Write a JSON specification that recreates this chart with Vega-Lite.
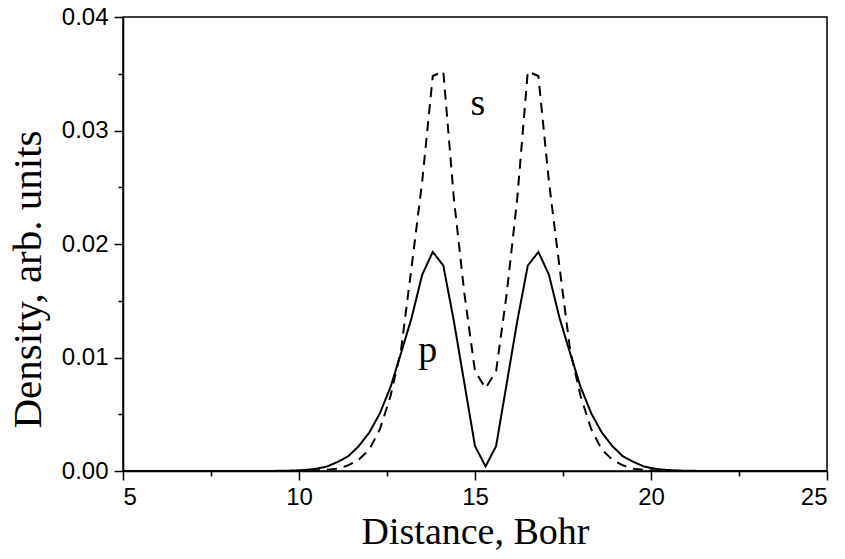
{
  "$schema": "https://vega.github.io/schema/vega-lite/v6.json",
  "autosize": "none",
  "width": 704,
  "height": 454,
  "padding": {"left": 123, "top": 17, "right": 18, "bottom": 88},
  "background": "white",
  "config": {
    "view": {"stroke": "black", "strokeWidth": 1.5},
    "axis": {
      "grid": false,
      "labelFont": "Liberation Sans",
      "labelFontSize": 24,
      "labelColor": "black",
      "titleFont": "Liberation Serif",
      "titleFontSize": 38,
      "titleFontWeight": "normal",
      "titleColor": "black",
      "domainColor": "black",
      "domainWidth": 1.5,
      "ticks": true,
      "tickColor": "black",
      "tickWidth": 1.5,
      "tickSize": 9
    }
  },
  "datasets": {
    "curves": [
      {"x": 5.0, "p": 0, "s": 0},
      {"x": 9.3, "p": 0.00001, "s": 0},
      {"x": 9.6, "p": 0.00002, "s": 0},
      {"x": 9.9, "p": 0.00005, "s": 0},
      {"x": 10.2, "p": 0.0001, "s": 0.00001},
      {"x": 10.5, "p": 0.0002, "s": 0.00004},
      {"x": 10.8, "p": 0.0004, "s": 0.0001},
      {"x": 11.1, "p": 0.0008, "s": 0.0002},
      {"x": 11.4, "p": 0.0013, "s": 0.0005},
      {"x": 11.7, "p": 0.0022, "s": 0.0010},
      {"x": 12.0, "p": 0.0034, "s": 0.0019},
      {"x": 12.3, "p": 0.0051, "s": 0.0037},
      {"x": 12.6, "p": 0.0074, "s": 0.0066},
      {"x": 12.9, "p": 0.0104, "s": 0.0107},
      {"x": 13.2, "p": 0.0135, "s": 0.0180},
      {"x": 13.5, "p": 0.0173, "s": 0.0255},
      {"x": 13.8, "p": 0.0193, "s": 0.0348},
      {"x": 14.1, "p": 0.0181, "s": 0.0352},
      {"x": 14.4, "p": 0.0132, "s": 0.0240},
      {"x": 14.7, "p": 0.0077, "s": 0.0156},
      {"x": 15.0, "p": 0.0022, "s": 0.0088},
      {"x": 15.3, "p": 0.0004, "s": 0.0073},
      {"x": 15.6, "p": 0.0022, "s": 0.0088},
      {"x": 15.9, "p": 0.0077, "s": 0.0156},
      {"x": 16.2, "p": 0.0132, "s": 0.0240},
      {"x": 16.5, "p": 0.0181, "s": 0.0352},
      {"x": 16.8, "p": 0.0193, "s": 0.0348},
      {"x": 17.1, "p": 0.0173, "s": 0.0255},
      {"x": 17.4, "p": 0.0135, "s": 0.0180},
      {"x": 17.7, "p": 0.0104, "s": 0.0107},
      {"x": 18.0, "p": 0.0074, "s": 0.0066},
      {"x": 18.3, "p": 0.0051, "s": 0.0037},
      {"x": 18.6, "p": 0.0034, "s": 0.0019},
      {"x": 18.9, "p": 0.0022, "s": 0.0010},
      {"x": 19.2, "p": 0.0013, "s": 0.0005},
      {"x": 19.5, "p": 0.0008, "s": 0.0002},
      {"x": 19.8, "p": 0.0004, "s": 0.0001},
      {"x": 20.1, "p": 0.0002, "s": 0.00004},
      {"x": 20.4, "p": 0.0001, "s": 0.00001},
      {"x": 20.7, "p": 0.00005, "s": 0},
      {"x": 21.0, "p": 0.00002, "s": 0},
      {"x": 21.3, "p": 0.00001, "s": 0},
      {"x": 25.0, "p": 0, "s": 0}
    ],
    "labels": [
      {"x": 15.08, "y": 0.0314, "label": "s"},
      {"x": 13.66, "y": 0.0096, "label": "p"}
    ]
  },
  "layer": [
    {
      "data": {"name": "curves"},
      "transform": [{"fold": ["p", "s"], "as": ["orb", "density"]}],
      "mark": {"type": "line", "strokeWidth": 2, "color": "black"},
      "encoding": {
        "x": {
          "field": "x", "type": "quantitative",
          "scale": {"domain": [5, 25], "nice": false, "zero": false},
          "axis": {"title": "Distance, Bohr", "values": [5, 10, 15, 20, 25], "labelPadding": 5, "titlePadding": 4, "orient": "bottom"}
        },
        "y": {
          "field": "density", "type": "quantitative",
          "scale": {"domain": [0, 0.04], "nice": false},
          "axis": {"title": "Density, arb. units", "titleFontSize": 41, "values": [0, 0.01, 0.02, 0.03, 0.04], "format": ".2f", "labelPadding": 6, "titleX": -95, "titleY": 262, "titleAngle": -90, "titleAlign": "center", "titleBaseline": "middle", "orient": "left"}
        },
        "detail": {"field": "orb"},
        "strokeDash": {
          "field": "orb", "type": "nominal",
          "scale": {"domain": ["p", "s"], "range": [[1, 0], [10, 7]]},
          "legend": null
        }
      }
    },
    {
      "data": {"name": "labels"},
      "mark": {"type": "text", "font": "Liberation Serif", "fontSize": 38, "color": "black", "baseline": "alphabetic", "align": "center"},
      "encoding": {
        "x": {
          "field": "x", "type": "quantitative",
          "axis": {"title": null, "values": [7.5, 12.5, 17.5, 22.5], "labels": false, "domain": false, "tickSize": 5, "orient": "bottom"}
        },
        "y": {
          "field": "y", "type": "quantitative",
          "axis": {"title": null, "values": [0.005, 0.015, 0.025, 0.035], "labels": false, "domain": false, "tickSize": 5, "orient": "left"}
        },
        "text": {"field": "label"}
      }
    }
  ],
  "resolve": {"axis": {"x": "independent", "y": "independent"}}
}
